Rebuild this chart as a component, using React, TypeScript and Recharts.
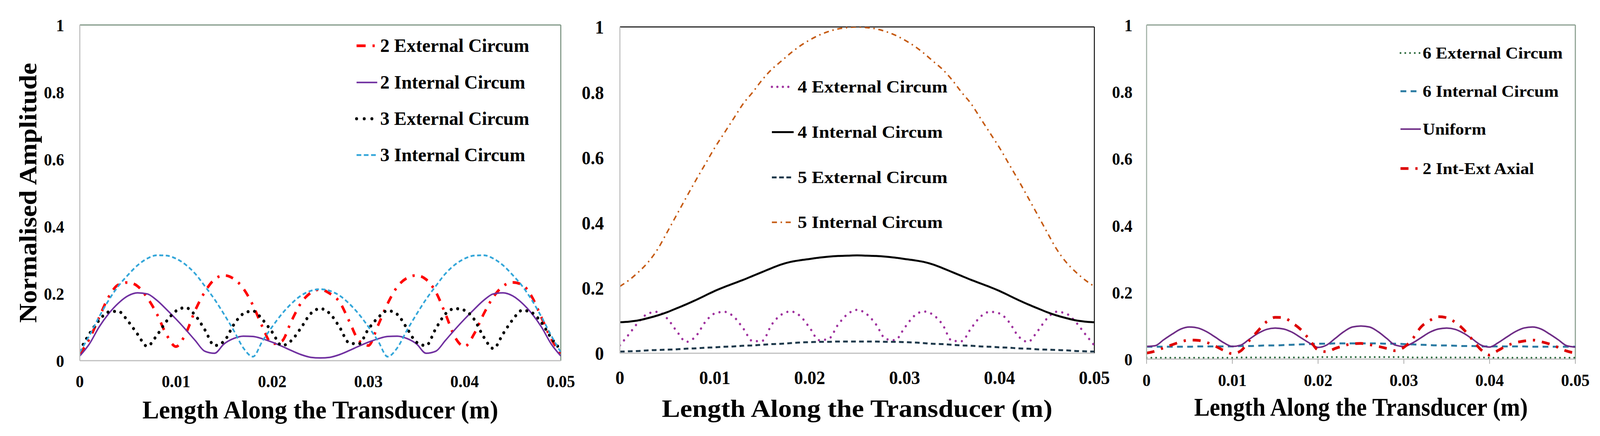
import React from 'react';
import { LineChart, Line, XAxis, YAxis, ReferenceLine, Legend } from 'recharts';

const SERIF = "'Liberation Serif', 'Times New Roman', Times, serif";
const W = 4411;
const H = 1117;

// positions along the transducer (m)
const lengthM = [
  0, 0.001, 0.002, 0.003, 0.004, 0.005, 0.006, 0.007, 0.008, 0.009,
  0.01, 0.011, 0.012, 0.013, 0.014, 0.015, 0.016, 0.017, 0.018, 0.019,
  0.02, 0.021, 0.022, 0.023, 0.024, 0.025, 0.026, 0.027, 0.028, 0.029,
  0.03, 0.031, 0.032, 0.033, 0.034, 0.035, 0.036, 0.037, 0.038, 0.039,
  0.04, 0.041, 0.042, 0.043, 0.044, 0.045, 0.046, 0.047, 0.048, 0.049, 0.05,
];
const xTicks = [0, 0.01, 0.02, 0.03, 0.04, 0.05];
const yTicks = [0, 0.2, 0.4, 0.6, 0.8, 1];

const xTitle = 'Length Along the Transducer (m)';
const yTitle = 'Normalised Amplitude';

// left panel
const ext2 = [
  0.020, 0.065, 0.128, 0.190, 0.226, 0.233, 0.222, 0.188, 0.140, 0.078,
  0.042, 0.080, 0.150, 0.205, 0.242, 0.254, 0.244, 0.215, 0.165, 0.100,
  0.050, 0.058, 0.118, 0.172, 0.202, 0.212, 0.200, 0.175, 0.118, 0.060,
  0.045, 0.105, 0.170, 0.220, 0.246, 0.254, 0.242, 0.205, 0.140, 0.070,
  0.042, 0.080, 0.140, 0.190, 0.222, 0.233, 0.226, 0.190, 0.128, 0.065, 0.022,
];
const int2 = [
  0.014, 0.050, 0.100, 0.140, 0.171, 0.193, 0.202, 0.199, 0.180, 0.153,
  0.124, 0.093, 0.060, 0.028, 0.022, 0.050, 0.066, 0.073, 0.072, 0.065,
  0.055, 0.043, 0.030, 0.018, 0.010, 0.008, 0.010, 0.018, 0.030, 0.043,
  0.055, 0.065, 0.072, 0.073, 0.066, 0.050, 0.022, 0.028, 0.060, 0.093,
  0.124, 0.153, 0.180, 0.199, 0.202, 0.193, 0.171, 0.140, 0.100, 0.050, 0.014,
];
const ext3 = [
  0.030, 0.080, 0.120, 0.145, 0.147, 0.118, 0.079, 0.043, 0.075, 0.117,
  0.148, 0.158, 0.135, 0.092, 0.045, 0.058, 0.107, 0.140, 0.148, 0.122,
  0.085, 0.045, 0.060, 0.098, 0.140, 0.155, 0.140, 0.100, 0.053, 0.050,
  0.094, 0.128, 0.149, 0.138, 0.097, 0.055, 0.045, 0.095, 0.139, 0.155,
  0.150, 0.123, 0.070, 0.036, 0.080, 0.122, 0.150, 0.143, 0.113, 0.068, 0.032,
];
const int3 = [
  0.025, 0.075, 0.130, 0.180, 0.222, 0.255, 0.284, 0.304, 0.314, 0.313,
  0.304, 0.286, 0.259, 0.222, 0.183, 0.138, 0.090, 0.038, 0.012, 0.059,
  0.101, 0.139, 0.170, 0.194, 0.208, 0.213, 0.208, 0.194, 0.170, 0.139,
  0.101, 0.059, 0.012, 0.038, 0.090, 0.138, 0.183, 0.222, 0.259, 0.286,
  0.304, 0.313, 0.314, 0.304, 0.284, 0.255, 0.222, 0.180, 0.130, 0.075, 0.025,
];

// middle panel
const ext4 = [
  0.024, 0.060, 0.097, 0.122, 0.127, 0.106, 0.067, 0.035, 0.052, 0.096,
  0.122, 0.127, 0.112, 0.076, 0.037, 0.038, 0.088, 0.118, 0.128, 0.114,
  0.078, 0.040, 0.044, 0.088, 0.120, 0.133, 0.120, 0.088, 0.044, 0.040,
  0.078, 0.114, 0.128, 0.118, 0.088, 0.038, 0.037, 0.076, 0.112, 0.127,
  0.122, 0.096, 0.052, 0.035, 0.067, 0.106, 0.127, 0.122, 0.097, 0.060, 0.024,
];
const int4 = [
  0.095, 0.097, 0.101, 0.108, 0.116, 0.126, 0.138, 0.150, 0.163, 0.177,
  0.191, 0.203, 0.214, 0.225, 0.237, 0.249, 0.261, 0.272, 0.280, 0.285,
  0.289, 0.293, 0.296, 0.298, 0.299, 0.300, 0.299, 0.298, 0.296, 0.293,
  0.289, 0.285, 0.280, 0.272, 0.261, 0.249, 0.237, 0.225, 0.214, 0.203,
  0.191, 0.177, 0.163, 0.150, 0.138, 0.126, 0.116, 0.108, 0.101, 0.097, 0.095,
];
const ext5 = [
  0.005, 0.006, 0.007, 0.009, 0.010, 0.011, 0.012, 0.014, 0.015, 0.017,
  0.018, 0.020, 0.021, 0.023, 0.024, 0.026, 0.028, 0.029, 0.031, 0.033,
  0.034, 0.035, 0.035, 0.036, 0.036, 0.036, 0.036, 0.036, 0.035, 0.035,
  0.034, 0.033, 0.031, 0.029, 0.028, 0.026, 0.024, 0.023, 0.021, 0.020,
  0.018, 0.017, 0.015, 0.014, 0.012, 0.011, 0.010, 0.009, 0.007, 0.006, 0.005,
];
const int5 = [
  0.205, 0.225, 0.250, 0.280, 0.320, 0.372, 0.425, 0.478, 0.530, 0.580,
  0.630, 0.675, 0.720, 0.765, 0.800, 0.838, 0.870, 0.895, 0.920, 0.942,
  0.960, 0.975, 0.986, 0.994, 0.998, 1.000, 0.998, 0.994, 0.986, 0.975,
  0.960, 0.942, 0.920, 0.895, 0.870, 0.838, 0.800, 0.765, 0.720, 0.675,
  0.630, 0.580, 0.530, 0.478, 0.425, 0.372, 0.320, 0.280, 0.250, 0.225, 0.205,
];

// right panel
const ext6 = [
  0.004, 0.004, 0.004, 0.004, 0.004, 0.004, 0.004, 0.004, 0.004, 0.004,
  0.004, 0.005, 0.005, 0.005, 0.005, 0.005, 0.005, 0.005, 0.005, 0.005,
  0.006, 0.006, 0.006, 0.006, 0.006, 0.006, 0.006, 0.006, 0.006, 0.006,
  0.006, 0.005, 0.005, 0.005, 0.005, 0.005, 0.005, 0.005, 0.005, 0.005,
  0.004, 0.004, 0.004, 0.004, 0.004, 0.004, 0.004, 0.004, 0.004, 0.004, 0.004,
];
const int6 = [
  0.037, 0.037, 0.037, 0.037, 0.037, 0.037, 0.038, 0.038, 0.038, 0.038,
  0.038, 0.039, 0.039, 0.040, 0.041, 0.041, 0.042, 0.043, 0.044, 0.045,
  0.046, 0.046, 0.047, 0.047, 0.047, 0.047, 0.047, 0.047, 0.046, 0.046,
  0.045, 0.044, 0.043, 0.042, 0.041, 0.041, 0.040, 0.039, 0.039, 0.038,
  0.038, 0.038, 0.038, 0.038, 0.038, 0.037, 0.037, 0.037, 0.037, 0.037, 0.037,
];
const uniform = [
  0.038, 0.040, 0.058, 0.075, 0.090, 0.096, 0.093, 0.082, 0.066, 0.049,
  0.038, 0.042, 0.060, 0.077, 0.089, 0.093, 0.090, 0.080, 0.064, 0.048,
  0.035, 0.042, 0.062, 0.082, 0.096, 0.099, 0.096, 0.082, 0.062, 0.042,
  0.038, 0.048, 0.064, 0.080, 0.090, 0.093, 0.089, 0.077, 0.060, 0.042,
  0.036, 0.049, 0.066, 0.082, 0.093, 0.096, 0.090, 0.075, 0.058, 0.040, 0.036,
];
const axial2 = [
  0.018, 0.024, 0.034, 0.043, 0.052, 0.057, 0.056, 0.050, 0.039, 0.026,
  0.016, 0.025, 0.056, 0.085, 0.112, 0.125, 0.124, 0.108, 0.088, 0.058,
  0.027, 0.022, 0.032, 0.040, 0.046, 0.047, 0.043, 0.038, 0.032, 0.025,
  0.035, 0.060, 0.096, 0.115, 0.127, 0.124, 0.110, 0.088, 0.058, 0.028,
  0.012, 0.026, 0.040, 0.049, 0.054, 0.057, 0.052, 0.045, 0.035, 0.024, 0.018,
];

type Series = {
  name: string;
  values: number[];
  color: string;
  width: number;
  dash?: string;
  legendDash?: string;
  round?: boolean;
};

type PanelCfg = {
  left: number;
  width: number;
  top: number;
  right: number;
  xAxisH: number;
  yAxisW: number;
  tickFont: number;
  yTickMargin: number;
  xTickSize: number;
  xTickMargin: number;
  frame: string;
  frameW: number;
  leftAxis: string;
  titleFont: number;
  titleLen: number;
  titleDy: number;
  yTitle?: boolean;
  legend: { x0: number; x1: number; tx: number; base: number[]; font: number; lens: number[] };
  series: Series[];
};

const panels: PanelCfg[] = [
  {
    left: 0, width: 1620, top: 64, right: 74, xAxisH: 193, yAxisW: 220,
    tickFont: 45, yTickMargin: 43, xTickSize: 0, xTickMargin: 36,
    frame: '#7E9684', frameW: 3, leftAxis: '#BFBFBF', titleFont: 65, titleLen: 981, titleDy: 148, yTitle: true,
    legend: { x0: 983, x1: 1040, tx: 1048, base: [133, 227, 320, 413], font: 48, lens: [411, 400, 411, 400] },
    series: [
      { name: '2 External Circum', values: ext2, color: '#FF0000', width: 7, dash: '21 18 6 18', legendDash: '25 19 6 20' },
      { name: '2 Internal Circum', values: int2, color: '#7030A0', width: 4 },
      { name: '3 External Circum', values: ext3, color: '#000000', width: 8, dash: '0.1 18', legendDash: '0.1 21', round: true },
      { name: '3 Internal Circum', values: int3, color: '#33A6D9', width: 4.5, dash: '11 7', legendDash: '13 7' },
    ],
  },
  {
    left: 1560, width: 1530, top: 69, right: 73, xAxisH: 212, yAxisW: 149,
    tickFont: 49, yTickMargin: 44, xTickSize: 0, xTickMargin: 44,
    frame: '#000000', frameW: 2.5, leftAxis: '#BFBFBF', titleFont: 64, titleLen: 1077, titleDy: 163,
    legend: { x0: 568, x1: 628, tx: 639, base: [237, 353, 469, 584], font: 44, lens: [413, 400, 413, 400] },
    series: [
      { name: '4 External Circum', values: ext4, color: '#A0339F', width: 6, dash: '0.1 17', legendDash: '0.1 15', round: true },
      { name: '4 Internal Circum', values: int4, color: '#000000', width: 5 },
      { name: '5 External Circum', values: ext5, color: '#1F3A4C', width: 5, dash: '13 9', legendDash: '13 7' },
      { name: '5 Internal Circum', values: int5, color: '#C55A11', width: 4, dash: '14 10 4 10' },
    ],
  },
  {
    left: 3030, width: 1381, top: 64, right: 68, xAxisH: 197, yAxisW: 131,
    tickFont: 45, yTickMargin: 39, xTickSize: 12, xTickMargin: 25,
    frame: '#8A9E8F', frameW: 3, leftAxis: '#A3B2A7', titleFont: 65, titleLen: 920, titleDy: 145,
    legend: { x0: 831, x1: 887, tx: 892, base: [150, 248, 345, 446], font: 43, lens: [386, 375, 175, 307] },
    series: [
      { name: '6 External Circum', values: ext6, color: '#2E6B3F', width: 5, dash: '0.1 13', round: true },
      { name: '6 Internal Circum', values: int6, color: '#2B7BA3', width: 5, dash: '16 12' },
      { name: 'Uniform', values: uniform, color: '#6E2C86', width: 4 },
      { name: '2 Int-Ext Axial', values: axial2, color: '#DD0000', width: 7, dash: '22 19 6 19' },
    ],
  },
];

function LegendSvg({ p }: { p: PanelCfg }) {
  const lg = p.legend;
  return (
    <svg width={p.width} height={H} style={{ overflow: 'visible', display: 'block' }}>
      {p.series.map((s, i) => {
        const cy = lg.base[i] - lg.font * 0.33;
        return (
          <g key={s.name}>
            <line
              x1={lg.x0}
              x2={lg.x1}
              y1={cy}
              y2={cy}
              stroke={s.color}
              strokeWidth={s.width}
              strokeDasharray={s.legendDash || s.dash}
              strokeLinecap={s.round ? 'round' : 'butt'}
            />
            <text
              x={lg.tx}
              y={lg.base[i]}
              fontSize={lg.font}
              fontFamily={SERIF}
              fontWeight="bold"
              fill="#000"
              textLength={lg.lens[i]}
              lengthAdjust="spacingAndGlyphs"
            >
              {s.name}
            </text>
          </g>
        );
      })}
    </svg>
  );
}

function Panel({ p }: { p: PanelCfg }) {
  const rows = lengthM.map((x, i) => {
    const r: Record<string, number> = { x };
    p.series.forEach((s, k) => {
      r[`s${k}`] = s.values[i];
    });
    return r;
  });
  const tickStyle = { fontSize: p.tickFont, fontFamily: SERIF, fontWeight: 700, fill: '#000' };

  const xLabel = (props: any) => {
    const vb = props.viewBox || { x: 0, y: 0, width: 0, height: 0 };
    return (
      <text
        x={vb.x + vb.width / 2}
        y={vb.y + p.titleDy}
        textAnchor="middle"
        fontSize={p.titleFont}
        fontFamily={SERIF}
        fontWeight="bold"
        fill="#000"
        textLength={p.titleLen}
        lengthAdjust="spacingAndGlyphs"
      >
        {xTitle}
      </text>
    );
  };

  const yLabel = (props: any) => {
    const vb = props.viewBox || { x: 0, y: 0, width: 0, height: 0 };
    const bx = vb.x + 100;
    const cy = vb.y + vb.height / 2;
    return (
      <text
        x={bx}
        y={cy}
        transform={`rotate(-90 ${bx} ${cy})`}
        textAnchor="middle"
        fontSize={68}
        fontFamily={SERIF}
        fontWeight="bold"
        fill="#000"
        textLength={666}
        lengthAdjust="spacingAndGlyphs"
      >
        {yTitle}
      </text>
    );
  };

  return (
    <div style={{ position: 'absolute', left: p.left, top: 0, width: p.width, height: H }}>
      <LineChart width={p.width} height={H} data={rows} margin={{ top: p.top, right: p.right, bottom: 0, left: 0 }}>
        <XAxis
          type="number"
          dataKey="x"
          domain={[0, 0.05]}
          ticks={xTicks}
          interval={0}
          allowDataOverflow
          height={p.xAxisH}
          axisLine={{ stroke: '#BFBFBF', strokeWidth: 3 }}
          tickSize={p.xTickSize}
          tickLine={p.xTickSize ? { stroke: '#A6A6A6', strokeWidth: 2 } : false}
          tickMargin={p.xTickMargin}
          tick={tickStyle}
          label={xLabel}
        />
        <YAxis
          type="number"
          domain={[0, 1]}
          ticks={yTicks}
          interval={0}
          allowDataOverflow
          width={p.yAxisW}
          axisLine={{ stroke: p.leftAxis, strokeWidth: 3 }}
          tickSize={0}
          tickLine={false}
          tickMargin={p.yTickMargin}
          tick={tickStyle}
          label={p.yTitle ? yLabel : undefined}
        />
        <ReferenceLine y={1} stroke={p.frame} strokeWidth={p.frameW} />
        <ReferenceLine x={0.05} stroke={p.frame} strokeWidth={p.frameW} />
        {p.series.map((s, k) => (
          <Line
            key={s.name}
            name={s.name}
            type="monotone"
            dataKey={`s${k}`}
            stroke={s.color}
            strokeWidth={s.width}
            strokeDasharray={s.dash}
            strokeLinecap={s.round ? 'round' : 'butt'}
            strokeLinejoin="round"
            dot={false}
            activeDot={false}
            isAnimationActive={false}
          />
        ))}
        <Legend
          layout="vertical"
          align="center"
          verticalAlign="middle"
          wrapperStyle={{ left: 0, top: 0, width: p.width, height: H, pointerEvents: 'none' }}
          content={() => <LegendSvg p={p} />}
        />
      </LineChart>
    </div>
  );
}

export default function App() {
  // fit the 4411px-wide figure into the visible viewport if it is narrower
  const vw = typeof window !== 'undefined' ? document.documentElement.clientWidth || window.innerWidth : W;
  const sx = Math.min(1, vw / W);
  return (
    <div
      style={{
        position: 'absolute',
        left: 0,
        top: 0,
        width: W,
        height: H,
        background: '#fff',
        overflow: 'hidden',
        transform: sx < 1 ? `scaleX(${sx})` : undefined,
        transformOrigin: '0 0',
      }}
    >
      {panels.map((p) => (
        <Panel key={p.left} p={p} />
      ))}
    </div>
  );
}
